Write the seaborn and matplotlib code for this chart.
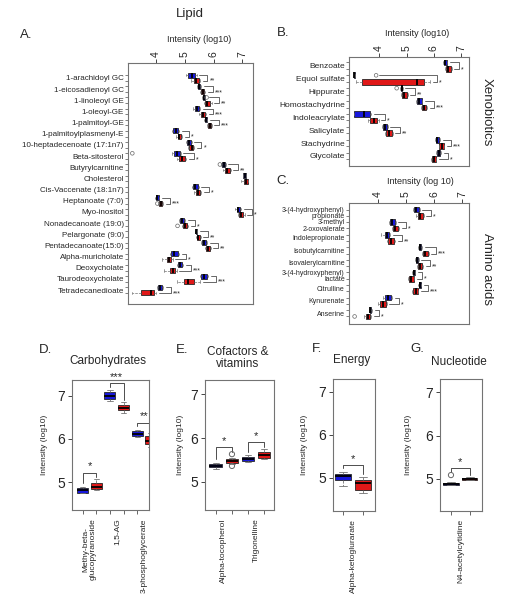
import numpy as np
import pandas as pd
import matplotlib
matplotlib.use('Agg')
import matplotlib.pyplot as plt
import seaborn as sns

sns.set_style('ticks')
plt.rcParams['font.family'] = ['Liberation Sans', 'DejaVu Sans']

BLUE = '#1818dc'
RED = '#e01818'
PAL = {'control': BLUE, 'case': RED}

# five-number summaries per box: [low whisker, q1, median, q3, high whisker] (log10 intensity)
lipid_names = ['1-arachidoyl GC', '1-eicosadienoyl GC', '1-linoleoyl GE', '1-oleoyl-GE',
               '1-palmitoyl-GE', '1-palmitoylplasmenyl-E', '10-heptadecenoate (17:1n7)',
               'Beta-sitosterol', 'Butyrylcarnitine', 'Cholesterol', 'Cis-Vaccenate (18:1n7)',
               'Heptanoate (7:0)', 'Myo-inositol', 'Nonadecanoate (19:0)', 'Pelargonate (9:0)',
               'Pentadecanoate(15:0)', 'Alpha-muricholate', 'Deoxycholate',
               'Taurodeoxycholate', 'Tetradecanedioate']
lipid_ctrl = [[5.04, 5.10, 5.24, 5.35, 5.41], [5.42, 5.45, 5.49, 5.54, 5.57],
              [5.60, 5.62, 5.67, 5.70, 5.72], [5.30, 5.35, 5.42, 5.49, 5.53],
              [5.68, 5.70, 5.74, 5.77, 5.79], [4.55, 4.60, 4.68, 4.77, 4.80],
              [5.04, 5.08, 5.16, 5.20, 5.24], [4.55, 4.61, 4.72, 4.82, 4.86],
              [6.26, 6.28, 6.35, 6.40, 6.42], [7.02, 7.04, 7.08, 7.11, 7.13],
              [5.25, 5.30, 5.37, 5.45, 5.49], [3.96, 3.99, 4.03, 4.09, 4.12],
              [6.76, 6.80, 6.86, 6.93, 6.97], [4.80, 4.83, 4.90, 4.98, 5.02],
              [5.36, 5.38, 5.40, 5.42, 5.44], [5.56, 5.60, 5.68, 5.75, 5.79],
              [4.48, 4.52, 4.64, 4.75, 4.80], [4.74, 4.78, 4.84, 4.91, 4.95],
              [5.52, 5.56, 5.66, 5.76, 5.82], [4.04, 4.08, 4.15, 4.22, 4.26]]
lipid_case = [[5.22, 5.31, 5.40, 5.49, 5.54], [5.52, 5.56, 5.62, 5.68, 5.72],
              [5.66, 5.71, 5.79, 5.89, 5.93], [5.50, 5.56, 5.63, 5.70, 5.74],
              [5.79, 5.82, 5.86, 5.91, 5.93], [4.70, 4.75, 4.81, 4.87, 4.91],
              [5.12, 5.16, 5.24, 5.29, 5.33], [4.74, 4.80, 4.90, 5.01, 5.06],
              [6.34, 6.40, 6.48, 6.56, 6.60], [6.95, 7.07, 7.11, 7.18, 7.21],
              [5.33, 5.38, 5.46, 5.54, 5.58], [4.08, 4.12, 4.17, 4.22, 4.25],
              [6.85, 6.89, 6.96, 7.04, 7.08], [4.90, 4.95, 5.02, 5.08, 5.12],
              [5.38, 5.41, 5.47, 5.52, 5.55], [5.70, 5.74, 5.81, 5.86, 5.90],
              [4.20, 4.37, 4.45, 4.52, 4.58], [4.29, 4.50, 4.58, 4.66, 4.72],
              [4.72, 4.97, 5.12, 5.33, 5.53], [3.18, 3.48, 3.83, 3.94, 4.00]]
lipid_stars = ['**', '***', '**', '***', '***', '*', '*', '*', '**', '', '*', '***',
               '*', '*', '**', '**', '*', '***', '***', '***']
lipid_out = [('1-linoleoyl GE', 'control', 5.76), ('Beta-sitosterol', 'control', 3.18),
             ('Butyrylcarnitine', 'control', 6.22), ('Heptanoate (7:0)', 'case', 4.05),
             ('Nonadecanoate (19:0)', 'case', 4.75)]

xeno_names = ['Benzoate', 'Equol sulfate', 'Hippurate', 'Homostachydrine',
              'Indoleacrylate', 'Salicylate', 'Stachydrine', 'Glycolate']
xeno_ctrl = [[6.34, 6.37, 6.42, 6.47, 6.49], [3.08, 3.09, 3.10, 3.11, 3.12],
             [4.77, 4.79, 4.82, 4.84, 4.86], [5.36, 5.40, 5.47, 5.55, 5.58],
             [3.08, 3.10, 3.45, 3.68, 3.72], [4.10, 4.13, 4.21, 4.28, 4.31],
             [6.03, 6.06, 6.13, 6.20, 6.23], [6.07, 6.10, 6.17, 6.23, 6.26]]
xeno_case = [[6.42, 6.45, 6.53, 6.62, 6.66], [3.16, 3.37, 5.37, 5.62, 5.86],
             [4.80, 4.83, 4.92, 5.01, 5.05], [5.53, 5.57, 5.64, 5.72, 5.76],
             [3.60, 3.65, 3.82, 3.94, 3.98], [4.22, 4.26, 4.35, 4.46, 4.50],
             [6.17, 6.20, 6.29, 6.35, 6.38], [5.90, 5.93, 6.00, 6.06, 6.09]]
xeno_stars = ['*', '*', '**', '***', '*', '**', '***', '*']
xeno_out = [('Equol sulfate', 'control', 3.89), ('Hippurate', 'control', 4.64)]

amino_names = ['3-(4-hydroxyphenyl)\npropionate', '3-methyl\n2-oxovalerate',
               'Indolepropionate', 'Isobutylcarnitine', 'Isovalerylcarnitine',
               '3-(4-hydroxyphenyl)\nlactate', 'Citrulline', 'Kynurenate', 'Anserine']
amino_ctrl = [[5.24, 5.29, 5.37, 5.45, 5.49], [4.38, 4.42, 4.51, 4.59, 4.63],
              [4.11, 4.25, 4.33, 4.40, 4.44], [5.44, 5.47, 5.51, 5.55, 5.58],
              [5.32, 5.35, 5.39, 5.43, 5.46], [5.22, 5.25, 5.29, 5.31, 5.33],
              [5.43, 5.46, 5.49, 5.53, 5.55], [4.18, 4.24, 4.35, 4.45, 4.50],
              [3.67, 3.70, 3.72, 3.76, 3.79]]
amino_case = [[5.36, 5.41, 5.49, 5.59, 5.63], [4.48, 4.52, 4.61, 4.72, 4.76],
              [4.32, 4.37, 4.46, 4.57, 4.61], [5.56, 5.60, 5.69, 5.77, 5.81],
              [5.40, 5.43, 5.51, 5.58, 5.62], [5.08, 5.12, 5.19, 5.27, 5.30],
              [5.21, 5.25, 5.34, 5.41, 5.44], [4.01, 4.06, 4.16, 4.27, 4.31],
              [3.50, 3.55, 3.64, 3.72, 3.75]]
amino_stars = ['*', '*', '**', '***', '**', '*', '***', '*', '*']
amino_out = [('Anserine', 'case', 3.16)]

carb_names = ['Methy-beta-\nglucopyranoside', '1,5-AG', '3-phosphoglycerate']
carb_ctrl = [[4.74, 4.75, 4.81, 4.87, 4.89], [6.88, 6.94, 7.00, 7.08, 7.13],
             [6.05, 6.07, 6.11, 6.18, 6.22]]
carb_case = [[4.81, 4.83, 4.89, 4.97, 5.06], [6.60, 6.67, 6.72, 6.79, 6.85],
             [5.81, 5.88, 5.96, 6.08, 6.15]]
carb_stars = ['*', '***', '**']

cof_names = ['Alpha-tocopherol', 'Trigonelline']
cof_ctrl = [[5.28, 5.33, 5.37, 5.41, 5.43], [5.45, 5.47, 5.52, 5.57, 5.60]]
cof_case = [[5.40, 5.43, 5.47, 5.51, 5.54], [5.52, 5.55, 5.62, 5.69, 5.74]]
cof_stars = ['*', '*']
cof_out = [('Alpha-tocopherol', 'case', 5.63), ('Alpha-tocopherol', 'case', 5.36)]

energy_names = ['Alpha-ketoglurarate']
energy_ctrl = [[4.81, 4.95, 5.04, 5.10, 5.14]]
energy_case = [[4.64, 4.73, 4.87, 4.96, 5.02]]
energy_stars = ['*']

nuc_names = ['N4-acetylcytidine']
nuc_ctrl = [[4.86, 4.87, 4.89, 4.91, 4.92]]
nuc_case = [[4.97, 4.98, 5.00, 5.02, 5.04]]
nuc_stars = ['*']
nuc_out = [('N4-acetylcytidine', 'control', 5.09)]


def to_long(names, ctrl, case):
    rows = []
    for name, c, k in zip(names, ctrl, case):
        rows += [(name, 'control', v) for v in c]
        rows += [(name, 'case', v) for v in k]
    return pd.DataFrame(rows, columns=['metabolite', 'group', 'log10'])


def draw_boxes(ax, df, names, orient, lw_whisk, gap):
    kw = dict(data=df, hue='group', order=names, hue_order=['control', 'case'],
              palette=PAL, saturation=1, width=1.0, gap=gap, whis=(0, 100),
              showfliers=False, linewidth=0.6, linecolor='0.15', legend=False, ax=ax,
              medianprops=dict(color='black', linewidth=1.3),
              whiskerprops=dict(color='0.45', linestyle='--', linewidth=lw_whisk),
              capprops=dict(color='0.45', linewidth=lw_whisk))
    if orient == 'h':
        sns.boxplot(x='log10', y='metabolite', orient='h', **kw)
    else:
        sns.boxplot(x='metabolite', y='log10', orient='v', **kw)


def group_max(i, name, vals, outliers, group):
    return max([vals[i][-1]] + [v for n, g, v in outliers if n == name and g == group])


def style_frame(ax):
    for s in ax.spines.values():
        s.set_color('0.45')
        s.set_linewidth(0.8)


def hpanel(ax, names, ctrl, case, stars, outliers, xlim, ylim, labsize):
    draw_boxes(ax, to_long(names, ctrl, case), names, 'h', 0.5, 0.1)
    for name, g, v in outliers:
        i = names.index(name) + (-0.25 if g == 'control' else 0.25)
        ax.scatter([v], [i], s=7, facecolors='none', edgecolors='0.4', linewidths=0.5, zorder=3)
    for i, name in enumerate(names):
        if not stars[i]:
            continue
        cm = group_max(i, name, ctrl, outliers, 'control')
        km = group_max(i, name, case, outliers, 'case')
        v = max(cm, km) + 0.25
        ax.plot([cm + 0.09, v, v, km + 0.09], [i - 0.25, i - 0.25, i + 0.25, i + 0.25],
                color='0.3', lw=0.6)
        ax.text(v + 0.07, i + 0.3, stars[i], fontsize=5, va='center', ha='left')
    n = len(names)
    ax.set_yticks([i + d for i in range(n) for d in (-0.25, 0.25)])
    ax.set_yticklabels([])
    ax.set_yticks(range(n), labels=names, minor=True)
    for t in ax.get_yticklabels(minor=True):
        t.set_linespacing(0.9)
    ax.tick_params(axis='y', which='major', length=2, width=0.5, color='0.3')
    ax.tick_params(axis='y', which='minor', length=0, labelsize=labsize, pad=3)
    ax.xaxis.tick_top()
    ax.set_xticks([4, 5, 6, 7])
    ax.tick_params(axis='x', labelrotation=90, labelsize=7.5, length=3, width=0.6, pad=1)
    ax.set_xlim(xlim)
    ax.set_ylim(ylim)
    ax.set_xlabel('')
    ax.set_ylabel('')
    style_frame(ax)


def vpanel(ax, names, ctrl, case, stars, outliers, xlim, ylim):
    draw_boxes(ax, to_long(names, ctrl, case), names, 'v', 0.6, 0.2)
    for name, g, v in outliers:
        i = names.index(name) + (-0.25 if g == 'control' else 0.25)
        ax.scatter([i], [v], s=14, facecolors='none', edgecolors='0.4', linewidths=0.7, zorder=3)
    for i, name in enumerate(names):
        cm = group_max(i, name, ctrl, outliers, 'control')
        km = group_max(i, name, case, outliers, 'case')
        top = max(cm, km) + 0.16
        ax.plot([i - 0.25, i - 0.25, i + 0.25, i + 0.25], [cm + 0.08, top, top, km + 0.06],
                color='0.3', lw=0.7)
        ax.text(i, top + 0.03, stars[i], fontsize=8, ha='center', va='bottom')
    n = len(names)
    ax.set_xticks([i + d for i in range(n) for d in (-0.25, 0.25)])
    ax.set_xticklabels([])
    ax.set_xticks(range(n), labels=names, minor=True)
    ax.tick_params(axis='x', which='major', length=3, width=0.6, color='0.3')
    ax.tick_params(axis='x', which='minor', length=0, labelsize=6, labelrotation=90, pad=6)
    ax.set_yticks([5, 6, 7])
    ax.tick_params(axis='y', labelsize=10, length=3, width=0.6, pad=2)
    ax.set_xlim(xlim)
    ax.set_ylim(ylim)
    ax.set_xlabel('')
    ax.set_ylabel('')
    style_frame(ax)


W, H = 510, 599
fig = plt.figure(figsize=(W / 100, H / 100), dpi=100)


def add_ax(x0, y0, x1, y1):
    return fig.add_axes([x0 / W, 1 - y1 / H, (x1 - x0) / W, (y1 - y0) / H])


def ftext(x, y, s, **kw):
    fig.text(x / W, 1 - y / H, s, **kw)


axA = add_ax(128, 63, 253, 304)
hpanel(axA, lipid_names, lipid_ctrl, lipid_case, lipid_stars, lipid_out,
       (3.03, 7.37), (20.25, -1.34), 5.8)
axB = add_ax(349, 57, 469, 166)
hpanel(axB, xeno_names, xeno_ctrl, xeno_case, xeno_stars, xeno_out,
       (2.9, 7.28), (7.78, -0.67), 6)
axC = add_ax(349, 203, 469, 324)
hpanel(axC, amino_names, amino_ctrl, amino_case, amino_stars, amino_out,
       (2.96, 7.25), (8.85, -0.77), 5)

axD = add_ax(72, 380, 149, 510)
vpanel(axD, carb_names, carb_ctrl, carb_case, carb_stars, [], (-0.64, 2.18), (4.35, 7.37))
axE = add_ax(205, 380, 274, 510)
vpanel(axE, cof_names, cof_ctrl, cof_case, cof_stars, cof_out, (-0.59, 1.56), (4.35, 7.33))
axF = add_ax(333, 379, 375, 511)
vpanel(axF, energy_names, energy_ctrl, energy_case, energy_stars, [], (-0.5, 0.55), (4.23, 7.30))
axG = add_ax(440, 379, 482, 511)
vpanel(axG, nuc_names, nuc_ctrl, nuc_case, nuc_stars, nuc_out, (-0.54, 0.57), (4.26, 7.31))

ftext(190, 14, 'Lipid', fontsize=9.5, ha='center', va='center')
ftext(20, 35, 'A.', fontsize=9.5, ha='left', va='center')
ftext(199, 39, 'Intensity (log10)', fontsize=6.5, ha='center', va='center')
ftext(277, 33, 'B.', fontsize=9.5, ha='left', va='center')
ftext(417, 34, 'Intensity (log10)', fontsize=6.5, ha='center', va='center')
ftext(276, 181, 'C.', fontsize=9.5, ha='left', va='center')
ftext(420, 181, 'Intensity (log 10)', fontsize=6.5, ha='center', va='center')
ftext(487, 112, 'Xenobiotics', fontsize=9.5, rotation=-90, ha='center', va='center')
ftext(487, 269, 'Amino acids', fontsize=9.5, rotation=-90, ha='center', va='center')

ftext(39, 350, 'D.', fontsize=9.5, ha='left', va='center')
ftext(108, 361, 'Carbohydrates', fontsize=8.5, ha='center', va='center')
ftext(176, 350, 'E.', fontsize=9.5, ha='left', va='center')
ftext(238, 358, 'Cofactors &\nvitamins', fontsize=8.5, ha='center', va='center', linespacing=1.0)
ftext(312, 349, 'F.', fontsize=9.5, ha='left', va='center')
ftext(352, 360, 'Energy', fontsize=8.5, ha='center', va='center')
ftext(410, 349, 'G.', fontsize=9.5, ha='left', va='center')
ftext(459, 362, 'Nucleotide', fontsize=8.5, ha='center', va='center')
for x in (45, 180, 305, 409):
    ftext(x, 445, 'Intensity (log10)', fontsize=6, rotation=90, ha='center', va='center')

fig.savefig('out.png', dpi=100)
